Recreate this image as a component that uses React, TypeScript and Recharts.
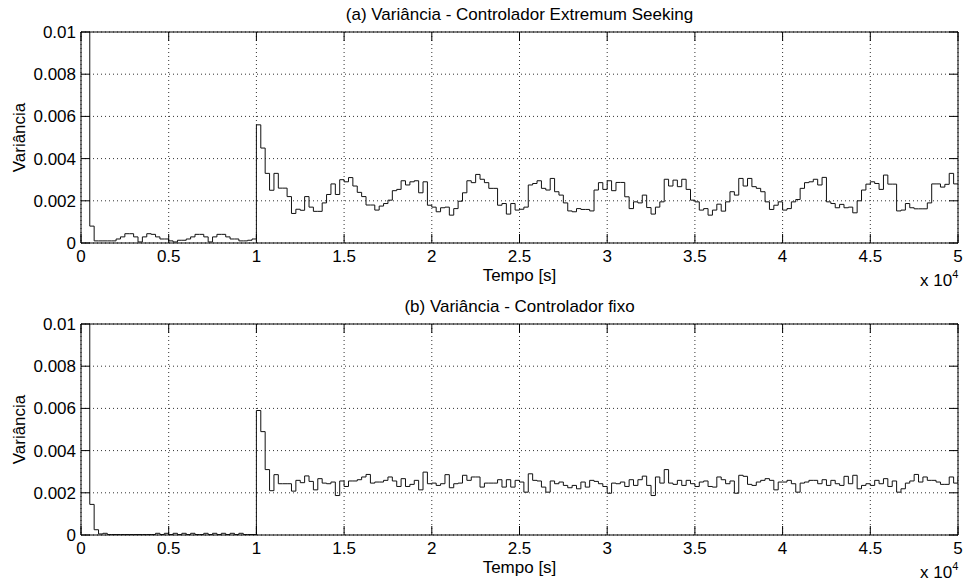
import { LineChart, Line, XAxis, YAxis, CartesianGrid, ReferenceLine } from 'recharts';

// time axis: one sample every 250 s, 0 .. 5e4 s
const SAMPLE_PERIOD = 250;
const X_TICKS = [0, 5000, 10000, 15000, 20000, 25000, 30000, 35000, 40000, 45000, 50000];
const Y_TICKS = [0, 0.002, 0.004, 0.006, 0.008, 0.01];

// (a) Extremum Seeking controller
const ES_VARIANCE = [
  0.05, 0.02, 0.0008, 0.0001, 0.0001, 0.0001, 0.0001, 0.0001, 0.00019, 0.00029,
  0.00044, 0.00044, 0.00029, 0.00005, 0.00029, 0.00044, 0.00041, 0.00029, 0.00019, 0.00019,
  0.0001, 0.00005, 0.00013, 0.00013, 0.00019, 0.00029, 0.00041, 0.00041, 0.00029, 0.00005,
  0.00029, 0.00041, 0.00041, 0.00029, 0.00019, 0.00019, 0.0001, 0.0001, 0.00013, 0.00019,
  0.0056, 0.0045, 0.0033, 0.0025, 0.0033, 0.0026, 0.0026, 0.0022, 0.0014, 0.0016,
  0.00155, 0.0022, 0.0017, 0.0015, 0.0015, 0.0019, 0.0023, 0.0028, 0.0023, 0.003,
  0.0029, 0.0031, 0.0027, 0.0024, 0.0022, 0.0018, 0.0018, 0.00156, 0.00175, 0.00187,
  0.00203, 0.00248, 0.00254, 0.00295, 0.00275, 0.0029, 0.00295, 0.00238, 0.0029, 0.00179,
  0.0017, 0.00148, 0.00167, 0.0017, 0.00132, 0.00163, 0.00198, 0.00238, 0.00295, 0.00286,
  0.00325, 0.00302, 0.00286, 0.00259, 0.00259, 0.00179, 0.00187, 0.00137, 0.00187, 0.00156,
  0.0016, 0.0017, 0.00275, 0.00282, 0.00295, 0.00259, 0.00251, 0.00306, 0.00243, 0.00227,
  0.0019, 0.00152, 0.00148, 0.00163, 0.00159, 0.00159, 0.00152, 0.00251, 0.00286, 0.00254,
  0.00295, 0.00248, 0.00287, 0.00287, 0.00219, 0.00163, 0.00195, 0.0019, 0.00227, 0.00168,
  0.00137, 0.0017, 0.00195, 0.00302, 0.0027, 0.00298, 0.00267, 0.00302, 0.00254, 0.00203,
  0.00195, 0.00156, 0.00163, 0.00132, 0.00156, 0.00184, 0.00151, 0.00195, 0.00243, 0.00227,
  0.00306, 0.0027, 0.00306, 0.00267, 0.00259, 0.00243, 0.00195, 0.00159, 0.00179, 0.00195,
  0.00156, 0.00163, 0.00195, 0.00206, 0.00259, 0.00286, 0.0029, 0.00302, 0.00275, 0.00311,
  0.00195, 0.00187, 0.00167, 0.00183, 0.00167, 0.0017, 0.00143, 0.002, 0.00251, 0.00279,
  0.0029, 0.00282, 0.00254, 0.00322, 0.00279, 0.00279, 0.00152, 0.00156, 0.00187, 0.00167,
  0.00162, 0.00162, 0.00162, 0.0019, 0.0028, 0.0028, 0.00265, 0.00278, 0.0033, 0.0028,
  0.0028,
];

// (b) fixed controller
const FIXED_VARIANCE = [
  0.05, 0.02, 0.00145, 0.00025, 0.00005, 0.00008, 0.00002, 0.00002, 0.00002, 0.00002,
  0.00002, 0.00002, 0.00002, 0.00002, 0.00002, 0.00002, 0.00002, 0.00008, 0.00002, 0.00008,
  0.00002, 0.00008, 0.00002, 0.00008, 0.00002, 0.00008, 0.00002, 0.00002, 0.00008, 0.00002,
  0.00008, 0.00002, 0.00008, 0.00002, 0.00008, 0.00002, 0.00008, 0.00002, 0.00002, 0.00002,
  0.0059, 0.0049, 0.0031, 0.0021, 0.00286, 0.00243, 0.00243, 0.00243, 0.00208, 0.00259,
  0.00248, 0.0028, 0.00254, 0.00214, 0.00267, 0.00246, 0.00243, 0.00251, 0.00187, 0.00256,
  0.0023, 0.00256, 0.00256, 0.00262, 0.00275, 0.00287, 0.00246, 0.00251, 0.00251, 0.00259,
  0.00275, 0.00256, 0.0023, 0.00267, 0.0023, 0.0024, 0.00259, 0.00214, 0.00298, 0.00243,
  0.00246, 0.00235, 0.00243, 0.00286, 0.00224, 0.00243, 0.00246, 0.00283, 0.00259, 0.00275,
  0.00275, 0.00227, 0.00246, 0.00246, 0.00246, 0.00262, 0.00227, 0.00262, 0.00227, 0.00259,
  0.00251, 0.00203, 0.0029, 0.00259, 0.00256, 0.00227, 0.00203, 0.00256, 0.00243, 0.00251,
  0.00235, 0.00224, 0.00235, 0.00219, 0.00251, 0.00227, 0.00259, 0.00254, 0.00243, 0.0023,
  0.00198, 0.00246, 0.00243, 0.00251, 0.0023, 0.00262, 0.00235, 0.00262, 0.00279, 0.00235,
  0.00187, 0.00275, 0.00246, 0.0031, 0.00246, 0.0024, 0.00259, 0.00235, 0.00259, 0.00243,
  0.0023, 0.00251, 0.00256, 0.0023, 0.00227, 0.00275, 0.00262, 0.00243, 0.00256, 0.00198,
  0.00283, 0.00278, 0.0024, 0.00235, 0.00251, 0.00259, 0.00267, 0.00259, 0.00214, 0.00251,
  0.00251, 0.00259, 0.00243, 0.00203, 0.00246, 0.00251, 0.00259, 0.00259, 0.00243, 0.00262,
  0.00235, 0.00259, 0.00243, 0.00235, 0.00278, 0.00243, 0.00283, 0.00219, 0.00235, 0.00243,
  0.00235, 0.00259, 0.00243, 0.00267, 0.0023, 0.00256, 0.00203, 0.00219, 0.00246, 0.00256,
  0.00287, 0.00251, 0.00275, 0.00259, 0.00259, 0.00251, 0.0024, 0.0024, 0.00275, 0.00246,
  0.00275,
];

const FONT = '"Liberation Sans", Arial, Helvetica, sans-serif';
const W = 964;
const PLOT_LEFT = 81;
const PLOT_RIGHT = 958;
const PLOT_TOP = 32;
const PLOT_BOTTOM = 243;
const TICK_LEN = 9;
const Y_AXIS_W = 60;
const X_AXIS_H = 30;

const textStyle = { fontFamily: FONT, fontSize: 17, fill: '#000' };

// bottom tick + matching inward tick on the top edge of the box
const BottomTick = ({ x, payload }: any) => (
  <g>
    <line x1={x} x2={x} y1={PLOT_BOTTOM} y2={PLOT_BOTTOM - TICK_LEN} stroke="#000" />
    <line x1={x} x2={x} y1={PLOT_TOP} y2={PLOT_TOP + TICK_LEN} stroke="#000" />
    <text x={x} y={PLOT_BOTTOM + 19} textAnchor="middle" {...textStyle}>
      {String(payload.value / 10000)}
    </text>
  </g>
);

// left tick + matching inward tick on the right edge of the box
const LeftTick = ({ y, payload }: any) => (
  <g>
    <line x1={PLOT_LEFT} x2={PLOT_LEFT + TICK_LEN} y1={y} y2={y} stroke="#000" />
    <line x1={PLOT_RIGHT} x2={PLOT_RIGHT - TICK_LEN} y1={y} y2={y} stroke="#000" />
    <text x={PLOT_LEFT - 5} y={y + 6} textAnchor="end" {...textStyle}>
      {String(payload.value)}
    </text>
  </g>
);

const yLabel = () => (
  <text
    transform={`translate(25, ${(PLOT_TOP + PLOT_BOTTOM) / 2}) rotate(-90)`}
    textAnchor="middle"
    {...textStyle}
  >
    Variância
  </text>
);

function VariancePanel({ title, values, height }: { title: string; values: number[]; height: number }) {
  const data = values.map((v, i) => ({ t: i * SAMPLE_PERIOD, v }));
  const cx = (PLOT_LEFT + PLOT_RIGHT) / 2;

  const xLabel = () => (
    <g>
      <text x={cx} y={PLOT_TOP - 12} textAnchor="middle" {...textStyle}>
        {title}
      </text>
      <text x={cx} y={PLOT_BOTTOM + 38} textAnchor="middle" {...textStyle}>
        Tempo [s]
      </text>
      <text x={920} y={PLOT_BOTTOM + 43} textAnchor="start" {...textStyle}>
        x 10<tspan fontSize={11} dy={-8}>4</tspan>
      </text>
    </g>
  );

  return (
    <LineChart
      width={W}
      height={height}
      data={data}
      margin={{
        top: PLOT_TOP,
        right: W - PLOT_RIGHT,
        bottom: height - PLOT_BOTTOM - X_AXIS_H,
        left: PLOT_LEFT - Y_AXIS_W,
      }}
    >
      <CartesianGrid stroke="#333" strokeDasharray="1 3" />
      <XAxis
        dataKey="t"
        type="number"
        domain={[0, 50000]}
        ticks={X_TICKS}
        interval={0}
        allowDataOverflow
        height={X_AXIS_H}
        tickSize={0}
        tickMargin={0}
        tickLine={false}
        axisLine={{ stroke: '#000' }}
        tick={BottomTick}
        label={xLabel}
      />
      <YAxis
        type="number"
        domain={[0, 0.01]}
        ticks={Y_TICKS}
        interval={0}
        allowDataOverflow
        width={Y_AXIS_W}
        tickSize={0}
        tickMargin={0}
        tickLine={false}
        axisLine={{ stroke: '#000' }}
        tick={LeftTick}
        label={yLabel}
      />
      <ReferenceLine y={0.01} stroke="#000" />
      <ReferenceLine x={50000} stroke="#000" />
      <Line
        type="stepAfter"
        dataKey="v"
        stroke="#111"
        strokeWidth={1}
        dot={false}
        activeDot={false}
        isAnimationActive={false}
      />
    </LineChart>
  );
}

export default function App() {
  return (
    <div style={{ position: 'absolute', left: 0, top: 0, width: W, height: 586, background: '#fff' }}>
      <div style={{ position: 'absolute', left: 0, top: 0 }}>
        <VariancePanel
          title="(a) Variância - Controlador Extremum Seeking"
          values={ES_VARIANCE}
          height={292}
        />
      </div>
      <div style={{ position: 'absolute', left: 0, top: 292 }}>
        <VariancePanel title="(b) Variância - Controlador fixo" values={FIXED_VARIANCE} height={294} />
      </div>
    </div>
  );
}
